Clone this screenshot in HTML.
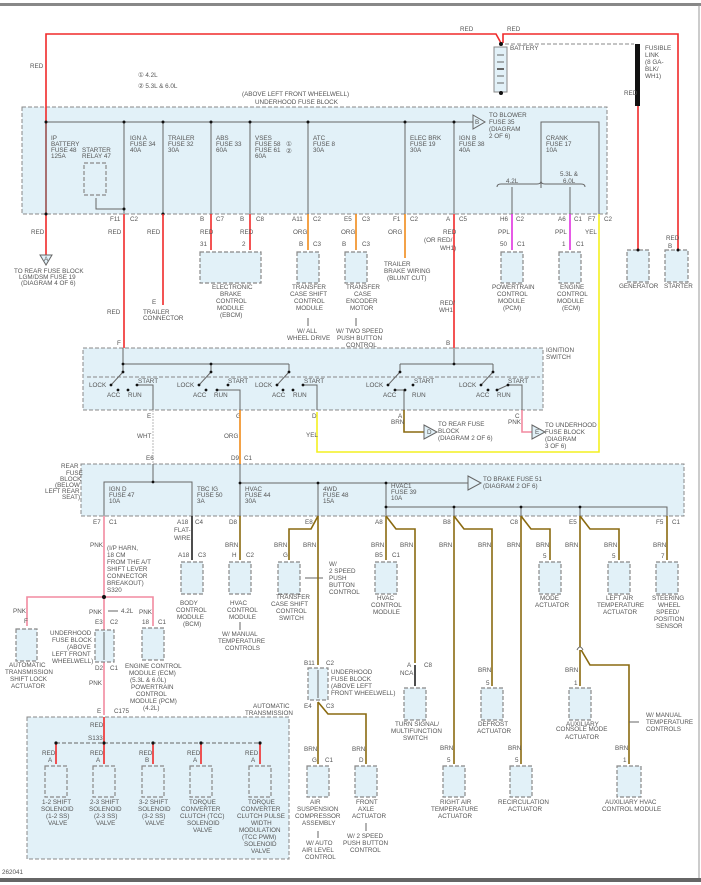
<!DOCTYPE html>
<html><head><meta charset="utf-8"><style>
html,body{margin:0;padding:0;background:#fff}
svg{display:block}
text{font-family:"Liberation Sans",sans-serif;font-size:6.3px;fill:#555}
.bx{fill:#e2f1f8;stroke:#888;stroke-width:1;stroke-dasharray:4 2}
.m{fill:#e2f1f8;stroke:#888;stroke-width:1.2;stroke-dasharray:4 2}
.g{stroke:#666;stroke-width:1;fill:none}
.r{stroke:#f02a2a;stroke-width:1.6;fill:none}
.o{stroke:#f08a1a;stroke-width:1.6;fill:none}
.p{stroke:#e030e0;stroke-width:1.6;fill:none}
.y{stroke:#f4f020;stroke-width:1.6;fill:none}
.b{stroke:#8a6a10;stroke-width:1.6;fill:none}
.k{stroke:#f28aa0;stroke-width:1.6;fill:none}
.w{stroke:#ccc;stroke-width:1.4;fill:none;stroke-dasharray:2 1}
.bl{stroke:#222;stroke-width:1.6;fill:none}
.d{fill:#111}
</style></head><body>
<svg width="701" height="885" viewBox="0 0 701 885" xmlns="http://www.w3.org/2000/svg">
<rect x="0" y="3" width="701" height="3" fill="#888"/>
<rect x="0" y="878" width="701" height="4" fill="#666"/>
<line x1="699" y1="5" x2="699" y2="878" stroke="#999"/>

<!-- blocks -->
<rect class="bx" x="22" y="107" width="585" height="107"/>
<rect class="bx" x="83" y="348" width="460" height="62"/>
<rect class="bx" x="81" y="464" width="603" height="52"/>
<rect class="bx" x="27" y="717" width="262" height="142"/>

<!-- top wires -->
<polyline class="r" points="46,255 46,34 496,34 501,43"/>
<polyline class="r" points="503,43 503,34 678,34 678,252"/>
<polyline class="r" points="638,105 638,252"/>
<line x1="505" y1="44" x2="634" y2="44" stroke="#888" stroke-dasharray="4 2"/>
<rect x="494" y="47" width="13" height="45" fill="#e2f1f8" stroke="#888"/>
<g stroke="#666"><line x1="497" y1="55" x2="504" y2="55"/><line x1="497" y1="62" x2="504" y2="62"/><line x1="497" y1="69" x2="504" y2="69" stroke-width="2"/><line x1="497" y1="76" x2="504" y2="76"/><line x1="497" y1="83" x2="504" y2="83"/></g>
<circle class="d" cx="501" cy="44" r="2"/><circle class="d" cx="501" cy="93" r="2"/>
<rect x="635" y="44" width="5" height="62" fill="#111"/>
<text x="510" y="50">BATTERY</text><text x="460" y="31">RED</text><text x="507" y="31">RED</text>
<text x="645" y="50">FUSIBLE</text><text x="645" y="57">LINK</text><text x="645" y="64">(8 GA-</text><text x="645" y="71">BLK/</text><text x="645" y="78">WH1)</text>
<text x="30" y="68">RED</text><text x="624" y="95">RED</text><text x="666" y="240">RED</text><text x="668" y="248">B</text>
<text x="138" y="77">① 4.2L</text><text x="138" y="88">② 5.3L &amp; 6.0L</text>
<text x="242" y="96">(ABOVE LEFT FRONT WHEELWELL)</text><text x="255" y="104">UNDERHOOD FUSE BLOCK</text>

<!-- underhood internals -->
<polyline class="g" points="46,122 455,122 473,122"/>
<polygon points="473,115 485,122 473,129" fill="#e2f1f8" stroke="#666"/>
<text x="475" y="124" font-size="5">B</text>
<text x="489" y="117">TO BLOWER</text><text x="489" y="124">FUSE 35</text><text x="489" y="131">(DIAGRAM</text><text x="489" y="138">2 OF 6)</text>
<g class="g"><line x1="46" y1="122" x2="46" y2="214"/><line x1="124" y1="122" x2="124" y2="214"/><line x1="163" y1="122" x2="163" y2="214"/><line x1="211" y1="122" x2="211" y2="214"/><line x1="250" y1="122" x2="250" y2="214"/><line x1="308" y1="122" x2="308" y2="214"/><line x1="405" y1="122" x2="405" y2="214"/><line x1="454" y1="122" x2="454" y2="214"/>
<polyline points="541,188 541,122 599,122 599,214"/>
<path d="M497,187 q0,-3 4,-3 h36 q4,0 4,-3 q0,3 4,3 h36 q4,0 4,3"/>
<line x1="512" y1="187" x2="512" y2="214"/><line x1="570" y1="187" x2="570" y2="214"/>
<polyline points="96,198 96,209 124,209"/></g>
<rect class="m" x="84" y="163" width="22" height="32"/>
<g fill="#111"><circle cx="46" cy="122" r="1.5"/><circle cx="124" cy="122" r="1.5"/><circle cx="163" cy="122" r="1.5"/><circle cx="211" cy="122" r="1.5"/><circle cx="250" cy="122" r="1.5"/><circle cx="308" cy="122" r="1.5"/><circle cx="405" cy="122" r="1.5"/><circle cx="454" cy="122" r="1.5"/><circle cx="46" cy="214" r="1.5"/><circle cx="163" cy="214" r="1.5"/><circle cx="124" cy="209" r="1.5"/></g>
<g><text x="51" y="140">IP</text><text x="51" y="146">BATTERY</text><text x="51" y="152">FUSE 48</text><text x="51" y="158">125A</text>
<text x="82" y="152">STARTER</text><text x="82" y="158">RELAY 47</text>
<text x="130" y="140">IGN A</text><text x="130" y="146">FUSE 34</text><text x="130" y="152">40A</text>
<text x="168" y="140">TRAILER</text><text x="168" y="146">FUSE 32</text><text x="168" y="152">30A</text>
<text x="216" y="140">ABS</text><text x="216" y="146">FUSE 33</text><text x="216" y="152">60A</text>
<text x="255" y="140">VSES</text><text x="255" y="146">FUSE 58</text><text x="255" y="152">FUSE 61</text><text x="255" y="158">60A</text><text x="286" y="146">①</text><text x="286" y="153">②</text>
<text x="313" y="140">ATC</text><text x="313" y="146">FUSE 8</text><text x="313" y="152">30A</text>
<text x="410" y="140">ELEC BRK</text><text x="410" y="146">FUSE 19</text><text x="410" y="152">30A</text>
<text x="459" y="140">IGN B</text><text x="459" y="146">FUSE 38</text><text x="459" y="152">40A</text>
<text x="546" y="140">CRANK</text><text x="546" y="146">FUSE 17</text><text x="546" y="152">10A</text>
<text x="506" y="183">4.2L</text><text x="560" y="176">5.3L &amp;</text><text x="563" y="183">6.0L</text></g>
<g><text x="110" y="221">F11</text><text x="130" y="221">C2</text><text x="200" y="221">B</text><text x="216" y="221">C7</text><text x="240" y="221">B</text><text x="256" y="221">C8</text><text x="292" y="221">A11</text><text x="313" y="221">C2</text><text x="344" y="221">E5</text><text x="362" y="221">C3</text><text x="393" y="221">F1</text><text x="410" y="221">C2</text><text x="446" y="221">A</text><text x="459" y="221">C5</text><text x="500" y="221">H6</text><text x="516" y="221">C2</text><text x="558" y="221">A6</text><text x="574" y="221">C1</text><text x="588" y="221">F7</text><text x="604" y="221">C2</text></g>

<!-- below underhood -->
<polygon points="40,255 52,255 46,265" fill="#e2f1f8" stroke="#666"/><text x="44" y="261" font-size="5">A</text>
<text x="14" y="273">TO REAR FUSE BLOCK</text><text x="19" y="279">LGM/DSM FUSE 19</text><text x="21" y="285">(DIAGRAM 4 OF 6)</text>
<text x="31" y="234">RED</text><text x="108" y="234">RED</text><text x="147" y="234">RED</text><text x="107" y="314">RED</text>
<line class="r" x1="124" y1="214" x2="124" y2="348"/>
<line class="r" x1="163" y1="214" x2="163" y2="305"/>
<text x="152" y="304">E</text><text x="143" y="314">TRAILER</text><text x="143" y="320">CONNECTOR</text>
<line class="r" x1="211" y1="214" x2="211" y2="250"/><line class="r" x1="250" y1="214" x2="250" y2="250"/>
<text x="200" y="234">RED</text><text x="240" y="234">RED</text><text x="200" y="246">31</text><text x="242" y="246">2</text>
<rect class="m" x="200" y="252" width="61" height="31"/>
<text x="212" y="289">ELECTRONIC</text><text x="220" y="296">BRAKE</text><text x="216" y="303">CONTROL</text><text x="217" y="310">MODULE</text><text x="220" y="317">(EBCM)</text>
<line class="o" x1="308" y1="214" x2="308" y2="250"/><text x="293" y="234">ORG</text><text x="299" y="246">B</text><text x="313" y="246">C3</text>
<rect class="m" x="297" y="252" width="22" height="31"/>
<text x="292" y="289">TRANSFER</text><text x="290" y="296">CASE SHIFT</text><text x="294" y="303">CONTROL</text><text x="296" y="310">MODULE</text>
<line class="g" x1="308" y1="318" x2="308" y2="326"/><text x="297" y="333">W/ ALL</text><text x="287" y="340">WHEEL DRIVE</text>
<line class="o" x1="356" y1="214" x2="356" y2="250"/><text x="341" y="234">ORG</text><text x="342" y="246">B</text><text x="362" y="246">C3</text>
<rect class="m" x="345" y="252" width="22" height="31"/>
<text x="346" y="289">TRANSFER</text><text x="354" y="296">CASE</text><text x="346" y="303">ENCODER</text><text x="350" y="310">MOTOR</text>
<line class="g" x1="356" y1="318" x2="356" y2="326"/><text x="336" y="333">W/ TWO SPEED</text><text x="337" y="340">PUSH BUTTON</text><text x="346" y="347">CONTROL</text>
<line class="o" x1="405" y1="214" x2="405" y2="258"/><text x="388" y="234">ORG</text>
<text x="384" y="266">TRAILER</text><text x="384" y="273">BRAKE WIRING</text><text x="387" y="280">(BLUNT CUT)</text>
<line class="r" x1="454" y1="214" x2="454" y2="348"/><text x="443" y="234">RED</text><text x="424" y="242">(OR RED/</text><text x="440" y="250">WH1)</text>
<text x="440" y="305">RED/</text><text x="439" y="312">WH1</text>
<line class="p" x1="512" y1="214" x2="512" y2="250"/><text x="498" y="234">PPL</text><text x="500" y="246">50</text><text x="517" y="246">C1</text>
<rect class="m" x="501" y="252" width="22" height="31"/>
<text x="492" y="289">POWERTRAIN</text><text x="497" y="296">CONTROL</text><text x="498" y="303">MODULE</text><text x="503" y="310">(PCM)</text>
<line class="p" x1="570" y1="214" x2="570" y2="250"/><text x="555" y="234">PPL</text><text x="562" y="246">1</text><text x="576" y="246">C1</text>
<rect class="m" x="559" y="252" width="22" height="31"/>
<text x="560" y="289">ENGINE</text><text x="557" y="296">CONTROL</text><text x="557" y="303">MODULE</text><text x="562" y="310">(ECM)</text>
<rect class="m" x="627" y="250" width="22" height="32"/><text x="619" y="288">GENERATOR</text>
<rect class="m" x="665" y="250" width="23" height="32"/><text x="664" y="288">STARTER</text>
<circle class="d" cx="638" cy="250" r="1.5"/><circle class="d" cx="678" cy="250" r="1.5"/>
<polyline class="y" points="599,214 599,452 317,452 317,412"/><text x="585" y="234">YEL</text><text x="306" y="437">YEL</text>

<!-- ignition switch -->
<text x="546" y="352">IGNITION</text><text x="546" y="359">SWITCH</text>
<text x="117" y="345">F</text><text x="446" y="345">B</text>
<line x1="87" y1="377" x2="540" y2="377" stroke="#888" stroke-dasharray="4 2"/>
<g class="g"><polyline points="123,348 123,364 289,364"/><polyline points="400,364 493,364"/><line x1="454" y1="348" x2="454" y2="364"/>
<line x1="123" y1="364" x2="123" y2="372"/><line x1="123" y1="372" x2="111" y2="385"/>
<line x1="211" y1="364" x2="211" y2="372"/><line x1="211" y1="372" x2="199" y2="385"/>
<line x1="289" y1="364" x2="289" y2="372"/><line x1="289" y1="372" x2="277" y2="385"/>
<line x1="400" y1="364" x2="400" y2="372"/><line x1="400" y1="372" x2="388" y2="385"/>
<line x1="493" y1="364" x2="493" y2="372"/><line x1="493" y1="372" x2="481" y2="385"/>
<polyline points="137,385 153,385 153,410"/><polyline points="217,390 240,390 240,410"/><polyline points="303,385 317,385 317,410"/>
<polyline points="395,390 404,390 404,410"/><polyline points="497,390 508,385 522,385 522,410"/></g>
<g fill="#111"><circle cx="123" cy="364" r="1.4"/><circle cx="211" cy="364" r="1.4"/><circle cx="454" cy="364" r="1.4"/><circle cx="123" cy="372" r="1.4"/><circle cx="211" cy="372" r="1.4"/><circle cx="289" cy="372" r="1.4"/><circle cx="400" cy="372" r="1.4"/><circle cx="493" cy="372" r="1.4"/>
<circle cx="111" cy="385" r="1.4"/><circle cx="199" cy="385" r="1.4"/><circle cx="277" cy="385" r="1.4"/><circle cx="388" cy="385" r="1.4"/><circle cx="481" cy="385" r="1.4"/>
<circle cx="118" cy="390" r="1.4"/><circle cx="128" cy="390" r="1.4"/><circle cx="137" cy="385" r="1.4"/><circle cx="206" cy="390" r="1.4"/><circle cx="217" cy="390" r="1.4"/><circle cx="228" cy="385" r="1.4"/><circle cx="283" cy="390" r="1.4"/><circle cx="293" cy="390" r="1.4"/><circle cx="303" cy="385" r="1.4"/><circle cx="395" cy="390" r="1.4"/><circle cx="405" cy="390" r="1.4"/><circle cx="413" cy="385" r="1.4"/><circle cx="488" cy="390" r="1.4"/><circle cx="497" cy="390" r="1.4"/><circle cx="508" cy="385" r="1.4"/></g>
<g><text x="89" y="387">LOCK</text><text x="107" y="397">ACC</text><text x="128" y="397">RUN</text><text x="138" y="383">START</text>
<text x="177" y="387">LOCK</text><text x="193" y="397">ACC</text><text x="214" y="397">RUN</text><text x="228" y="383">START</text>
<text x="255" y="387">LOCK</text><text x="272" y="397">ACC</text><text x="293" y="397">RUN</text><text x="304" y="383">START</text>
<text x="366" y="387">LOCK</text><text x="383" y="397">ACC</text><text x="412" y="397">RUN</text><text x="414" y="383">START</text>
<text x="459" y="387">LOCK</text><text x="476" y="397">ACC</text><text x="497" y="397">RUN</text><text x="508" y="383">START</text>
<text x="147" y="418">E</text><text x="236" y="418">G</text><text x="312" y="418">D</text><text x="398" y="418">A</text><text x="515" y="418">C</text></g>
<polyline class="b" points="404,410 404,432 424,432"/><polygon points="424,425 437,432 424,439" fill="#e2f1f8" stroke="#666"/><text x="427" y="434" font-size="5">D</text>
<text x="391" y="424">BRN</text><text x="438" y="426">TO REAR FUSE</text><text x="438" y="433">BLOCK</text><text x="438" y="440">(DIAGRAM 2 OF 6)</text>
<polyline class="k" points="522,410 522,432 532,432"/><polygon points="532,425 545,432 532,439" fill="#e2f1f8" stroke="#666"/><text x="535" y="434" font-size="5">E</text>
<text x="508" y="424">PNK</text><text x="545" y="427">TO UNDERHOOD</text><text x="545" y="434">FUSE BLOCK</text><text x="545" y="441">(DIAGRAM</text><text x="545" y="448">3 OF 6)</text>
<line class="w" x1="153" y1="410" x2="153" y2="464"/><text x="137" y="438">WHT</text>
<line class="o" x1="240" y1="410" x2="240" y2="464"/><text x="224" y="438">ORG</text>
<text x="146" y="460">E6</text><text x="231" y="460">D9</text><text x="244" y="460">C1</text>

<!-- rear fuse block -->
<text x="61" y="468">REAR</text><text x="66" y="475">FUSE</text><text x="60" y="481">BLOCK</text><text x="55" y="487">(BELOW</text><text x="45" y="493">LEFT REAR</text><text x="62" y="499">SEAT)</text>
<g class="g"><line x1="153" y1="464" x2="153" y2="482"/><polyline points="104,516 104,482 192,482 192,516"/><polyline points="240,464 240,516"/><polyline points="240,483 468,483"/><line x1="318" y1="483" x2="318" y2="516"/><line x1="386" y1="483" x2="386" y2="516"/><polyline points="386,507 667,507 667,516"/><line x1="454" y1="507" x2="454" y2="516"/><line x1="521" y1="507" x2="521" y2="516"/><line x1="580" y1="507" x2="580" y2="516"/></g>
<polygon points="468,476 481,483 468,490" fill="#e2f1f8" stroke="#666"/><text x="483" y="481">TO BRAKE FUSE 51</text><text x="483" y="488">(DIAGRAM 2 OF 6)</text>
<g fill="#111"><circle cx="153" cy="482" r="1.4"/><circle cx="240" cy="483" r="1.4"/><circle cx="318" cy="483" r="1.4"/><circle cx="386" cy="483" r="1.4"/><circle cx="386" cy="507" r="1.4"/><circle cx="454" cy="507" r="1.4"/><circle cx="521" cy="507" r="1.4"/><circle cx="580" cy="507" r="1.4"/></g>
<g><text x="109" y="491">IGN D</text><text x="109" y="497">FUSE 47</text><text x="109" y="503">10A</text>
<text x="197" y="491">TBC IG</text><text x="197" y="497">FUSE 50</text><text x="197" y="503">3A</text>
<text x="245" y="491">HVAC</text><text x="245" y="497">FUSE 44</text><text x="245" y="503">30A</text>
<text x="323" y="491">4WD</text><text x="323" y="497">FUSE 48</text><text x="323" y="503">15A</text>
<text x="391" y="488">HVAC1</text><text x="391" y="494">FUSE 39</text><text x="391" y="500">10A</text>
<text x="93" y="524">E7</text><text x="109" y="524">C1</text><text x="177" y="524">A18</text><text x="195" y="524">C4</text><text x="229" y="524">D8</text><text x="305" y="524">E8</text><text x="375" y="524">A8</text><text x="443" y="524">B8</text><text x="510" y="524">C8</text><text x="569" y="524">E5</text><text x="656" y="524">F5</text><text x="672" y="524">C1</text></g>

<!-- pink branch -->
<polyline class="k" points="104,516 104,715"/>
<polyline class="k" points="27,626 27,597 153,597 153,626"/>
<circle class="d" cx="104" cy="597" r="2"/>
<text x="90" y="547">PNK</text><text x="107" y="550">(I/P HARN,</text><text x="107" y="557">18 CM</text><text x="107" y="564">FROM THE A/T</text><text x="107" y="571">SHIFT LEVER</text><text x="107" y="578">CONNECTOR</text><text x="107" y="585">BREAKOUT)</text><text x="107" y="592">S320</text>
<text x="13" y="613">PNK</text><text x="24" y="623">F</text><text x="89" y="614">PNK</text><text x="121" y="613">4.2L</text><line class="g" x1="108" y1="611" x2="118" y2="611"/>
<text x="139" y="614">PNK</text><text x="142" y="624">18</text><text x="158" y="624">C1</text>
<rect class="m" x="16" y="629" width="21" height="32"/>
<text x="9" y="667">AUTOMATIC</text><text x="5" y="674">TRANSMISSION</text><text x="10" y="681">SHIFT LOCK</text><text x="11" y="688">ACTUATOR</text>
<rect class="m" x="95" y="630" width="19" height="32"/><line x1="104" y1="632" x2="104" y2="660" stroke="#666"/>
<text x="95" y="624">E3</text><text x="110" y="624">C2</text><text x="95" y="670">D2</text><text x="110" y="670">C1</text>
<text x="50" y="635">UNDERHOOD</text><text x="52" y="642">FUSE BLOCK</text><text x="67" y="649">(ABOVE</text><text x="52" y="656">LEFT FRONT</text><text x="52" y="663">WHEELWELL)</text>
<rect class="m" x="142" y="628" width="22" height="32"/>
<text x="125" y="668">ENGINE CONTROL</text><text x="129" y="675">MODULE (ECM)</text><text x="130" y="682">(5.3L &amp; 6.0L)</text><text x="131" y="689">POWERTRAIN</text><text x="136" y="696">CONTROL</text><text x="130" y="703">MODULE (PCM)</text><text x="143" y="710">(4.2L)</text>
<text x="89" y="685">PNK</text><text x="97" y="713">E</text><text x="114" y="713">C175</text>

<!-- auto trans -->
<text x="253" y="708">AUTOMATIC</text><text x="245" y="715">TRANSMISSION</text>
<line x1="56" y1="743" x2="260" y2="743" stroke="#666" stroke-dasharray="4 2"/>
<line class="r" x1="104" y1="717" x2="104" y2="743"/><text x="90" y="727">RED</text><text x="88" y="740">S133</text>
<g class="r"><line x1="56" y1="743" x2="56" y2="764"/><line x1="104" y1="743" x2="104" y2="764"/><line x1="153" y1="743" x2="153" y2="764"/><line x1="201" y1="743" x2="201" y2="764"/><line x1="260" y1="743" x2="260" y2="764"/></g>
<g fill="#111"><circle cx="56" cy="743" r="1.6"/><circle cx="104" cy="743" r="1.6"/><circle cx="153" cy="743" r="1.6"/><circle cx="201" cy="743" r="1.6"/><circle cx="260" cy="743" r="1.6"/></g>
<g><text x="42" y="755">RED</text><text x="48" y="762">A</text><text x="90" y="755">RED</text><text x="96" y="762">A</text><text x="139" y="755">RED</text><text x="145" y="762">B</text><text x="187" y="755">RED</text><text x="193" y="762">A</text><text x="245" y="755">RED</text><text x="251" y="762">A</text></g>
<rect class="m" x="45" y="766" width="22" height="31"/><rect class="m" x="93" y="766" width="22" height="31"/><rect class="m" x="142" y="766" width="22" height="31"/><rect class="m" x="190" y="766" width="22" height="31"/><rect class="m" x="249" y="766" width="22" height="31"/>
<g><text x="42" y="804">1-2 SHIFT</text><text x="41" y="811">SOLENOID</text><text x="46" y="818">(1-2 SS)</text><text x="48" y="825">VALVE</text>
<text x="90" y="804">2-3 SHIFT</text><text x="89" y="811">SOLENOID</text><text x="94" y="818">(2-3 SS)</text><text x="96" y="825">VALVE</text>
<text x="139" y="804">3-2 SHIFT</text><text x="138" y="811">SOLENOID</text><text x="142" y="818">(3-2 SS)</text><text x="145" y="825">VALVE</text>
<text x="189" y="804">TORQUE</text><text x="181" y="811">CONVERTER</text><text x="180" y="818">CLUTCH (TCC)</text><text x="187" y="825">SOLENOID</text><text x="193" y="832">VALVE</text>
<text x="248" y="804">TORQUE</text><text x="241" y="811">CONVERTER</text><text x="237" y="818">CLUTCH PULSE</text><text x="251" y="825">WIDTH</text><text x="239" y="832">MODULATION</text><text x="242" y="839">(TCC PWM)</text><text x="244" y="846">SOLENOID</text><text x="251" y="853">VALVE</text></g>
<text x="2" y="874">262041</text>

<!-- middle branches -->
<line class="bl" x1="192" y1="516" x2="192" y2="560"/><text x="174" y="532">FLAT-</text><text x="174" y="540">WIRE</text><text x="178" y="557">A18</text><text x="198" y="557">C3</text>
<rect class="m" x="181" y="562" width="22" height="32"/><text x="180" y="605">BODY</text><text x="176" y="612">CONTROL</text><text x="177" y="619">MODULE</text><text x="183" y="626">(BCM)</text>
<line class="b" x1="240" y1="516" x2="240" y2="560"/><text x="225" y="547">BRN</text><text x="232" y="557">H</text><text x="246" y="557">C2</text>
<rect class="m" x="229" y="562" width="22" height="32"/><text x="230" y="605">HVAC</text><text x="227" y="612">CONTROL</text><text x="229" y="619">MODULE</text>
<line class="g" x1="240" y1="630" x2="240" y2="622"/><text x="222" y="636">W/ MANUAL</text><text x="218" y="643">TEMPERATURE</text><text x="225" y="650">CONTROLS</text>
<polyline class="b" points="318,516 311,529 289,529 289,560"/><text x="274" y="547">BRN</text><text x="283" y="557">G</text>
<rect class="m" x="278" y="562" width="22" height="32"/><text x="276" y="599">TRANSFER</text><text x="271" y="606">CASE SHIFT</text><text x="276" y="613">CONTROL</text><text x="279" y="620">SWITCH</text>
<line class="g" x1="305" y1="578" x2="323" y2="578"/><text x="329" y="566">W/</text><text x="329" y="573">2 SPEED</text><text x="329" y="580">PUSH</text><text x="329" y="587">BUTTON</text><text x="329" y="594">CONTROL</text>
<line class="b" x1="318" y1="516" x2="318" y2="665"/><text x="303" y="547">BRN</text>
<rect class="m" x="308" y="668" width="20" height="32"/><line x1="318" y1="670" x2="318" y2="698" stroke="#666"/>
<text x="304" y="665">B11</text><text x="326" y="665">C2</text><text x="304" y="708">E4</text><text x="326" y="708">C3</text>
<text x="331" y="674">UNDERHOOD</text><text x="331" y="681">FUSE BLOCK</text><text x="331" y="688">(ABOVE LEFT</text><text x="331" y="695">FRONT WHEELWELL)</text>
<polyline class="b" points="318,702 318,764"/><polyline class="b" points="318,702 328,714 366,714 366,764"/>
<text x="304" y="751">BRN</text><text x="312" y="762">G</text><text x="325" y="762">C1</text><text x="352" y="751">BRN</text><text x="359" y="762">D</text>
<rect class="m" x="307" y="766" width="22" height="31"/><text x="310" y="804">AIR</text><text x="297" y="811">SUSPENSION</text><text x="295" y="818">COMPRESSOR</text><text x="302" y="825">ASSEMBLY</text>
<line class="g" x1="318" y1="831" x2="318" y2="838"/><text x="306" y="845">W/ AUTO</text><text x="302" y="852">AIR LEVEL</text><text x="305" y="859">CONTROL</text>
<rect class="m" x="355" y="766" width="22" height="31"/><text x="356" y="804">FRONT</text><text x="358" y="811">AXLE</text><text x="352" y="818">ACTUATOR</text>
<line class="g" x1="366" y1="831" x2="366" y2="823"/><text x="347" y="838">W/ 2 SPEED</text><text x="343" y="845">PUSH BUTTON</text><text x="350" y="852">CONTROL</text>

<polyline class="b" points="386,516 386,560"/><polyline class="b" points="386,516 396,529 415,529 415,663"/><text x="371" y="547">BRN</text><text x="400" y="547">BRN</text><text x="375" y="557">B5</text><text x="392" y="557">C1</text>
<rect class="m" x="375" y="562" width="22" height="32"/><text x="377" y="600">HVAC</text><text x="371" y="607">CONTROL</text><text x="373" y="614">MODULE</text>
<line class="bl" x1="415" y1="665" x2="415" y2="686"/><text x="407" y="667">A</text><text x="424" y="667">C8</text><text x="400" y="675">NCA</text>
<rect class="m" x="404" y="688" width="22" height="32"/><text x="395" y="726">TURN SIGNAL/</text><text x="391" y="733">MULTIFUNCTION</text><text x="403" y="740">SWITCH</text>

<polyline class="b" points="454,516 454,764"/><polyline class="b" points="454,516 464,529 492,529 492,686"/>
<text x="439" y="547">BRN</text><text x="478" y="547">BRN</text><text x="478" y="672">BRN</text><text x="486" y="685">5</text><text x="440" y="750">BRN</text><text x="447" y="762">5</text>
<rect class="m" x="481" y="688" width="22" height="32"/><text x="478" y="726">DEFROST</text><text x="477" y="733">ACTUATOR</text>
<rect class="m" x="443" y="766" width="22" height="31"/><text x="440" y="804">RIGHT AIR</text><text x="431" y="811">TEMPERATURE</text><text x="438" y="818">ACTUATOR</text>

<polyline class="b" points="521,516 521,764"/><polyline class="b" points="521,516 531,529 550,529 550,560"/>
<text x="507" y="547">BRN</text><text x="536" y="547">BRN</text><text x="543" y="558">5</text><text x="508" y="750">BRN</text><text x="515" y="762">5</text>
<rect class="m" x="539" y="562" width="22" height="32"/><text x="540" y="600">MODE</text><text x="535" y="607">ACTUATOR</text>
<rect class="m" x="510" y="766" width="22" height="31"/><text x="498" y="804">RECIRCULATION</text><text x="508" y="811">ACTUATOR</text>

<polyline class="b" points="580,516 580,686"/><polyline class="b" points="580,516 590,529 619,529 619,560"/><polyline class="b" points="580,648 590,665 629,665 629,764"/>
<path d="M577,650 q3,-6 6,0" fill="#fff" stroke="#666"/>
<text x="565" y="547">BRN</text><text x="604" y="547">BRN</text><text x="612" y="558">5</text><text x="565" y="672">BRN</text><text x="574" y="685">1</text><text x="615" y="750">BRN</text><text x="623" y="762">1</text>
<rect class="m" x="569" y="688" width="22" height="32"/><text x="566" y="726">AUXILIARY</text><text x="556" y="731">CONSOLE MODE</text><text x="565" y="739">ACTUATOR</text>
<rect class="m" x="608" y="562" width="22" height="32"/><text x="606" y="600">LEFT AIR</text><text x="597" y="607">TEMPERATURE</text><text x="603" y="614">ACTUATOR</text>
<line class="g" x1="629" y1="722" x2="639" y2="722"/><text x="646" y="717">W/ MANUAL</text><text x="646" y="724">TEMPERATURE</text><text x="646" y="731">CONTROLS</text>
<rect class="m" x="617" y="766" width="24" height="31"/><text x="605" y="804">AUXILIARY HVAC</text><text x="602" y="811">CONTROL MODULE</text>

<line class="b" x1="667" y1="516" x2="667" y2="560"/><text x="653" y="547">BRN</text><text x="661" y="558">7</text>
<rect class="m" x="656" y="562" width="22" height="32"/><text x="652" y="600">STEERING</text><text x="658" y="607">WHEEL</text><text x="656" y="614">SPEED/</text><text x="654" y="621">POSITION</text><text x="656" y="628">SENSOR</text>
</svg>
</body></html>
